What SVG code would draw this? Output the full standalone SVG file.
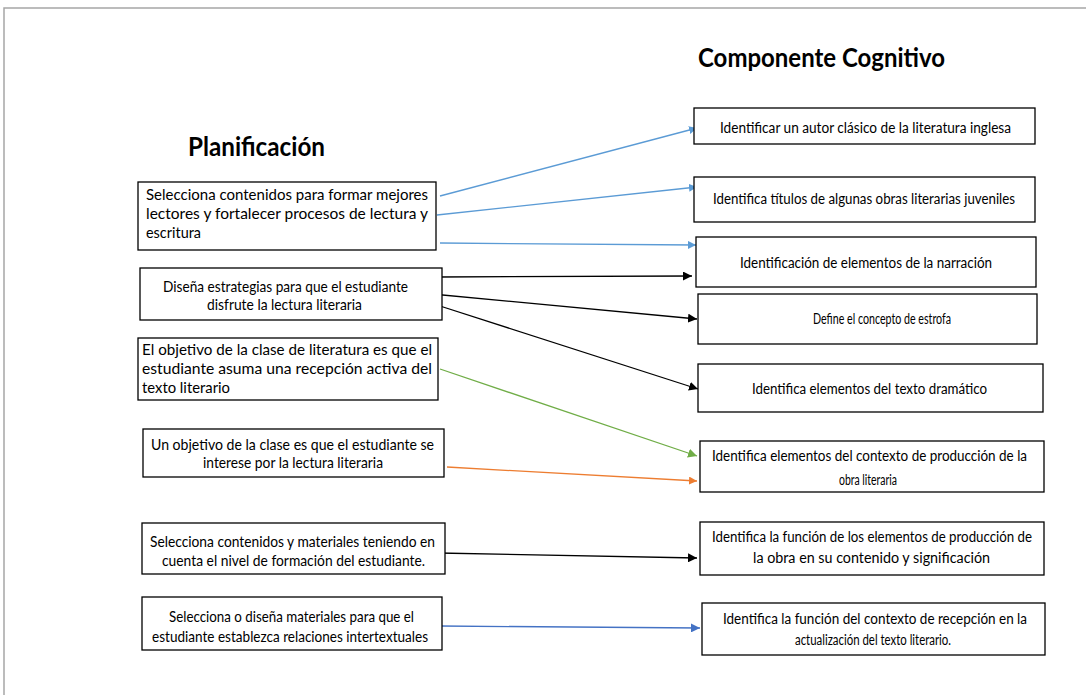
<svg xmlns="http://www.w3.org/2000/svg" width="1086" height="695" viewBox="0 0 1086 695">
<defs>
<style>
.box{fill:#fff;stroke:#000;stroke-width:1.3}
.t{font-family:Lato,"Liberation Sans",sans-serif;font-size:16px;fill:#000}
.r{font-family:Lato,"Liberation Sans",sans-serif;font-size:15.5px;fill:#000}
.title{font-family:Lato,"Liberation Sans",sans-serif;font-size:27px;font-weight:bold;fill:#000}
.c{fill:none;stroke-width:1.3}
</style>
<marker id="mLb" viewBox="0 0 10 10" refX="10" refY="5" markerWidth="8" markerHeight="8" markerUnits="userSpaceOnUse" orient="auto"><path d="M0,0L10,5L0,10z" fill="#5B9BD5"/></marker>
<marker id="mK" viewBox="0 0 10 10" refX="10" refY="5" markerWidth="9" markerHeight="9" markerUnits="userSpaceOnUse" orient="auto"><path d="M0,0L10,5L0,10z" fill="#000"/></marker>
<marker id="mG" viewBox="0 0 10 10" refX="10" refY="5" markerWidth="9" markerHeight="9" markerUnits="userSpaceOnUse" orient="auto"><path d="M0,0L10,5L0,10z" fill="#70AD47"/></marker>
<marker id="mO" viewBox="0 0 10 10" refX="10" refY="5" markerWidth="8" markerHeight="8" markerUnits="userSpaceOnUse" orient="auto"><path d="M0,0L10,5L0,10z" fill="#ED7D31"/></marker>
<marker id="mDb" viewBox="0 0 10 10" refX="10" refY="5" markerWidth="9" markerHeight="9" markerUnits="userSpaceOnUse" orient="auto"><path d="M0,0L10,5L0,10z" fill="#4472C4"/></marker>
</defs>
<rect width="1086" height="695" fill="#fff"/>
<path d="M1086,8H4V695" fill="none" stroke="#a6a6a6" stroke-width="1.5"/>

<text class="title" x="188" y="156" textLength="137" lengthAdjust="spacingAndGlyphs">Planificación</text>
<text class="title" x="698" y="67" textLength="247" lengthAdjust="spacingAndGlyphs">Componente Cognitivo</text>

<g id="connectors">
<line class="c" x1="440" y1="196" x2="697" y2="128" stroke="#5B9BD5" marker-end="url(#mLb)"/>
<line class="c" x1="437" y1="215" x2="697" y2="187" stroke="#5B9BD5" marker-end="url(#mLb)"/>
<line class="c" x1="440" y1="243" x2="696" y2="245" stroke="#5B9BD5" marker-end="url(#mLb)"/>
<line class="c" x1="438" y1="277" x2="692" y2="276" stroke="#000" marker-end="url(#mK)"/>
<line class="c" x1="432" y1="294" x2="697" y2="319" stroke="#000" marker-end="url(#mK)"/>
<line class="c" x1="440" y1="306" x2="698" y2="389" stroke="#000" marker-end="url(#mK)"/>
<line class="c" x1="440" y1="369" x2="697" y2="456" stroke="#70AD47" stroke-width="2.2" marker-end="url(#mG)"/>
<line class="c" x1="447" y1="467" x2="697" y2="481" stroke="#ED7D31" marker-end="url(#mO)"/>
<line class="c" x1="438" y1="553" x2="697" y2="558" stroke="#000" stroke-width="2.2" marker-end="url(#mK)"/>
<line class="c" x1="440" y1="626" x2="700" y2="628" stroke="#4472C4" stroke-width="2.2" marker-end="url(#mDb)"/>
</g>

<g id="p1">
<rect class="box" x="138" y="182" width="298" height="68"/>
<text class="t" x="146" y="200" textLength="282" lengthAdjust="spacingAndGlyphs">Selecciona contenidos para formar mejores</text>
<text class="t" x="146" y="219" textLength="282" lengthAdjust="spacingAndGlyphs">lectores y fortalecer procesos de lectura y</text>
<text class="t" x="146" y="238" textLength="55" lengthAdjust="spacingAndGlyphs">escritura</text>
</g>
<g id="p2">
<rect class="box" x="140" y="268" width="302" height="52"/>
<text class="t" x="163" y="292" textLength="245" lengthAdjust="spacingAndGlyphs">Diseña estrategias para que el estudiante</text>
<text class="t" x="207" y="310" textLength="155" lengthAdjust="spacingAndGlyphs">disfrute la lectura literaria</text>
</g>
<g id="p3">
<rect class="box" x="138" y="338" width="300" height="62"/>
<text class="t" x="142" y="355" textLength="290" lengthAdjust="spacingAndGlyphs">El objetivo de la clase de literatura es que el</text>
<text class="t" x="142" y="374" textLength="290" lengthAdjust="spacingAndGlyphs">estudiante asuma una recepción activa del</text>
<text class="t" x="142" y="393" textLength="88" lengthAdjust="spacingAndGlyphs">texto literario</text>
</g>
<g id="p4">
<rect class="box" x="143" y="429" width="301" height="48"/>
<text class="t" x="151" y="450" textLength="283" lengthAdjust="spacingAndGlyphs">Un objetivo de la clase es que el estudiante se</text>
<text class="t" x="203" y="468" textLength="180" lengthAdjust="spacingAndGlyphs">interese por la lectura literaria</text>
</g>
<g id="p5">
<rect class="box" x="142" y="523" width="303" height="51"/>
<text class="t" x="150" y="547" textLength="285" lengthAdjust="spacingAndGlyphs">Selecciona contenidos y materiales teniendo en</text>
<text class="t" x="162" y="566" textLength="263" lengthAdjust="spacingAndGlyphs">cuenta el nivel de formación del estudiante.</text>
</g>
<g id="p6">
<rect class="box" x="142" y="597" width="300" height="53"/>
<text class="t" x="169" y="622" textLength="245" lengthAdjust="spacingAndGlyphs">Selecciona o diseña materiales para que el</text>
<text class="t" x="152" y="642" textLength="276" lengthAdjust="spacingAndGlyphs">estudiante establezca relaciones intertextuales</text>
</g>

<g id="c1">
<rect class="box" x="694" y="108" width="341" height="36"/>
<text class="r" x="720" y="133" textLength="291" lengthAdjust="spacingAndGlyphs">Identificar un autor clásico de la literatura inglesa</text>
</g>
<g id="c2">
<rect class="box" x="694" y="177" width="341" height="45"/>
<text class="r" x="713" y="204" textLength="302" lengthAdjust="spacingAndGlyphs">Identifica títulos de algunas obras literarias juveniles</text>
</g>
<g id="c3">
<rect class="box" x="696" y="237" width="340" height="50"/>
<text class="r" x="740" y="268" textLength="252" lengthAdjust="spacingAndGlyphs">Identificación de elementos de  la narración</text>
</g>
<g id="c4">
<rect class="box" x="698" y="294" width="339" height="50"/>
<text class="r" x="813" y="324" textLength="138" lengthAdjust="spacingAndGlyphs">Define el concepto de estrofa</text>
</g>
<g id="c5">
<rect class="box" x="698" y="364" width="345" height="48"/>
<text class="r" x="752" y="394" textLength="235" lengthAdjust="spacingAndGlyphs">Identifica elementos del texto dramático</text>
</g>
<g id="c6">
<rect class="box" x="700" y="441" width="344" height="51"/>
<text class="r" x="712" y="461" textLength="315" lengthAdjust="spacingAndGlyphs">Identifica elementos del  contexto de producción de la</text>
<text class="r" x="839" y="485" textLength="58" lengthAdjust="spacingAndGlyphs">obra literaria</text>
</g>
<g id="c7">
<rect class="box" x="700" y="522" width="344" height="53"/>
<text class="r" x="712" y="542" textLength="320" lengthAdjust="spacingAndGlyphs">Identifica la función de los elementos de producción de</text>
<text class="r" x="753" y="563" textLength="237" lengthAdjust="spacingAndGlyphs">la obra en su contenido y significación</text>
</g>
<g id="c8">
<rect class="box" x="702" y="603" width="343" height="52"/>
<text class="r" x="723" y="624" textLength="304" lengthAdjust="spacingAndGlyphs">Identifica la función del contexto de recepción en la</text>
<text class="r" x="795" y="645" textLength="156" lengthAdjust="spacingAndGlyphs">actualización del texto literario.</text>
</g>
</svg>
